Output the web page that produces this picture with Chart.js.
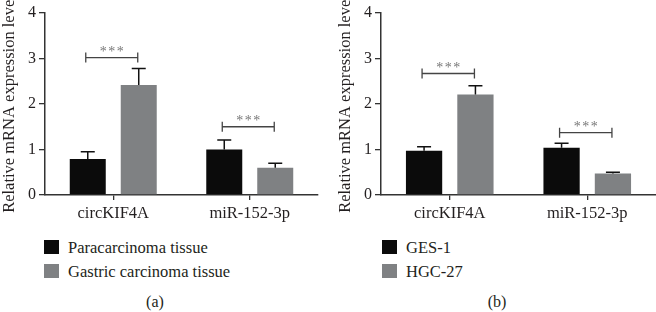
<!DOCTYPE html>
<html>
<head>
<meta charset="utf-8">
<script src="https://cdn.jsdelivr.net/npm/chart.js@4/dist/chart.umd.min.js"></script>
<style>
body { margin: 0; background: #fff; width: 656px; height: 312px; overflow: hidden; position: relative; font-family: 'Liberation Serif', serif; color: #231f20; }
.wrap { position: absolute; top: 0; height: 230px; }
.leg { position: absolute; font-size: 16.5px; line-height: 16px; white-space: nowrap; }
.leg span { position: absolute; width: 15px; height: 14px; left: 0; top: 0; }
.leg b { font-weight: normal; position: absolute; left: 24px; top: 0; }
.cap { position: absolute; font-size: 16px; transform: translateX(-50%); }
</style>
</head>
<body>
<div class="wrap" style="left:0;width:330px"><canvas id="chartA"></canvas></div>
<div class="wrap" style="left:336px;width:320px"><canvas id="chartB"></canvas></div>

<div class="leg" style="left:44px;top:240px"><span style="background:#0b0b0b"></span><b>Paracarcinoma tissue</b></div>
<div class="leg" style="left:44px;top:264px"><span style="background:#7f8183"></span><b>Gastric carcinoma tissue</b></div>
<div class="leg" style="left:382px;top:240px"><span style="background:#0b0b0b"></span><b>GES-1</b></div>
<div class="leg" style="left:382px;top:264px"><span style="background:#7f8183"></span><b>HGC-27</b></div>
<div class="cap" style="left:155px;top:293px">(a)</div>
<div class="cap" style="left:497px;top:293px">(b)</div>

<script>
const categories = ['circKIF4A', 'miR-152-3p'];
const yTicks = [0, 1, 2, 3, 4];

// (a) tissue
const paraA = [0.79, 1.0];
const paraErrA = [0.16, 0.21];
const gastricA = [2.42, 0.6];
const gastricErrA = [0.36, 0.10];
const sigA = [3.02, 1.5];

// (b) cell lines
const ges1B = [0.97, 1.04];
const ges1ErrB = [0.09, 0.10];
const hgc27B = [2.21, 0.47];
const hgc27ErrB = [0.19, 0.03];
const sigB = [2.67, 1.37];

Chart.defaults.font.family = 'Liberation Serif';
Chart.defaults.color = '#231f20';

const errorBars = {
  id: 'errorBars',
  afterDatasetsDraw(chart) {
    const ctx = chart.ctx;
    const y = chart.scales.y;
    ctx.save();
    ctx.strokeStyle = '#111';
    ctx.lineWidth = 1.5;
    chart.data.datasets.forEach((ds, di) => {
      const meta = chart.getDatasetMeta(di);
      meta.data.forEach((bar, i) => {
        const top = y.getPixelForValue(ds.data[i] + ds.err[i]);
        const base = y.getPixelForValue(ds.data[i]);
        ctx.beginPath();
        ctx.moveTo(bar.x, base);
        ctx.lineTo(bar.x, top);
        ctx.moveTo(bar.x - 7, top);
        ctx.lineTo(bar.x + 7, top);
        ctx.stroke();
      });
    });
    // significance brackets
    const sig = chart.options.plugins.sig.values;
    const m0 = chart.getDatasetMeta(0), m1 = chart.getDatasetMeta(1);
    ctx.strokeStyle = '#444';
    ctx.lineWidth = 1.3;
    sig.forEach((v, i) => {
      const x0 = m0.data[i].x - 2, x1 = m1.data[i].x - 1;
      const py = y.getPixelForValue(v);
      ctx.beginPath();
      ctx.moveTo(x0, py); ctx.lineTo(x1, py);
      ctx.moveTo(x0, py - 5); ctx.lineTo(x0, py + 5);
      ctx.moveTo(x1, py - 5); ctx.lineTo(x1, py + 5);
      ctx.stroke();
      ctx.fillStyle = '#777';
      ctx.font = '14px "Liberation Serif"';
      ctx.textAlign = 'center';
      ctx.textBaseline = 'middle';
      const cx = (x0 + x1) / 2;
      [-8.5, 0, 8.5].forEach(dx => ctx.fillText('*', cx + dx, py - 5));
    });
    ctx.restore();
  }
};

function makeChart(id, s1, e1, s2, e2, names, sig, padRight) {
  return new Chart(document.getElementById(id), {
    type: 'bar',
    data: {
      labels: categories,
      datasets: [
        { label: names[0], data: s1, err: e1, backgroundColor: '#0b0b0b', borderWidth: 0 },
        { label: names[1], data: s2, err: e2, backgroundColor: '#7f8183', borderWidth: 0 }
      ]
    },
    options: {
      responsive: true,
      maintainAspectRatio: false,
      animation: false,
      categoryPercentage: 0.747,
      barPercentage: 0.706,
      layout: { padding: { top: 13, right: padRight, left: 0, bottom: 0 } },
      scales: {
        x: {
          grid: { display: true, drawOnChartArea: false, drawTicks: true, tickLength: 5, offset: false, color: '#333', lineWidth: 1.3 },
          border: { display: true, color: '#333', width: 1.5 },
          ticks: { font: { size: 16.5 }, padding: 4, color: '#231f20' },
          afterFit(s) { s.height = 35; }
        },
        y: {
          min: 0, max: 4,
          afterBuildTicks(s) { s.ticks = yTicks.map(v => ({ value: v })); },
          grid: { display: true, drawOnChartArea: false, drawTicks: true, tickLength: 6, color: '#333', lineWidth: 1.3 },
          border: { display: true, color: '#333', width: 1.5 },
          ticks: { font: { size: 16 }, padding: 3, color: '#231f20' },
          title: { display: true, text: 'Relative mRNA expression level', font: { size: 16.5 }, padding: { top: 0, bottom: 0 }, color: '#231f20' },
          afterFit(s) { s.width = 45; }
        }
      },
      plugins: {
        legend: { display: false },
        tooltip: { enabled: false },
        sig: { values: sig }
      }
    },
    plugins: [errorBars]
  });
}

makeChart('chartA', paraA, paraErrA, gastricA, gastricErrA, ['Paracarcinoma tissue', 'Gastric carcinoma tissue'], sigA, 12);
makeChart('chartB', ges1B, ges1ErrB, hgc27B, hgc27ErrB, ['GES-1', 'HGC-27'], sigB, 0);
</script>
</body>
</html>
